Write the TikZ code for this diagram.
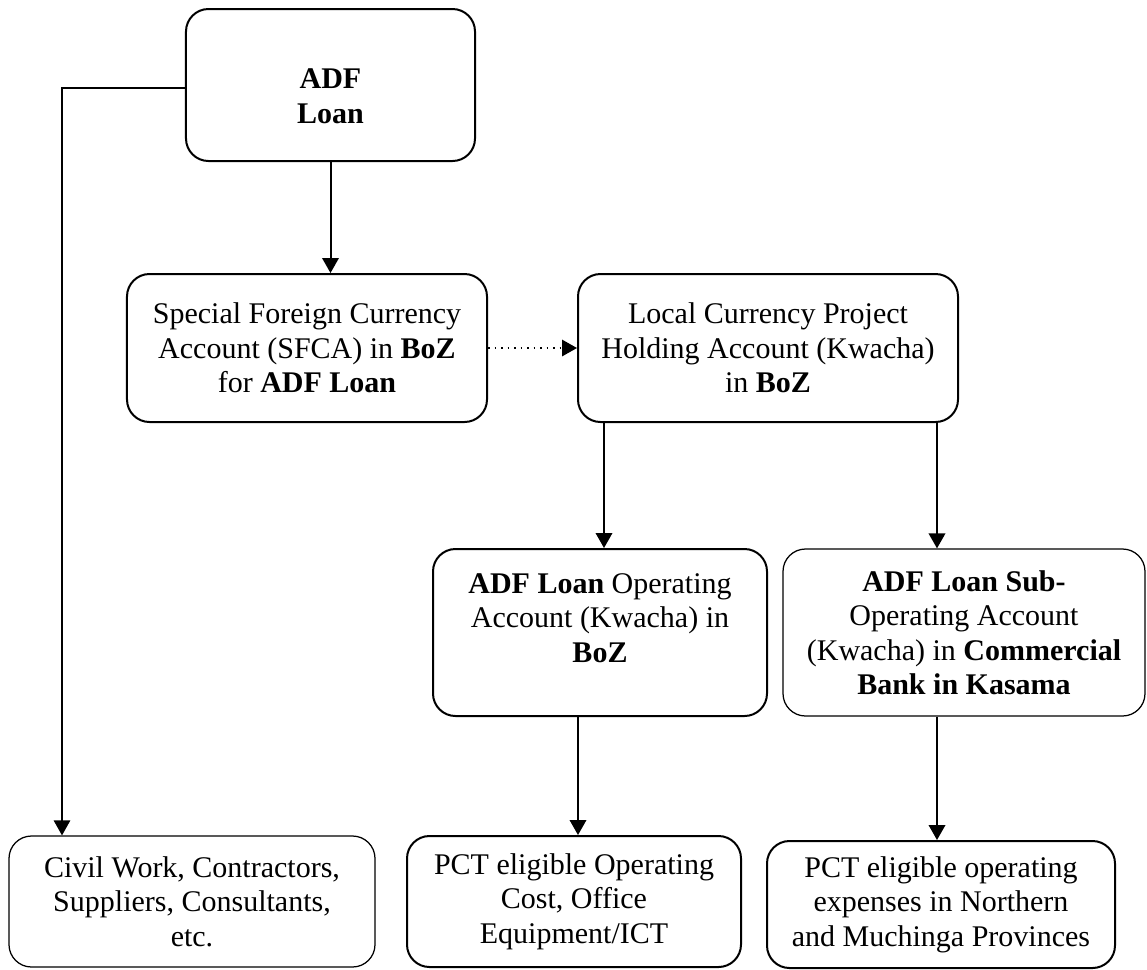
\documentclass[tikz,border=0pt]{standalone}
\usepackage{fontspec}
\setmainfont{Liberation Serif}
\usetikzlibrary{arrows.meta}

\begin{document}
\begin{tikzpicture}[x=0.4pt,y=-0.4pt,->,>={Triangle[length=6pt,width=6.6pt]},
                    line width=0.8pt,font=\fontsize{12}{13.8}\selectfont]
  \tikzstyle{box}=[draw=black,rounded corners=9pt,align=center,inner sep=2pt]
  \tikzstyle{thinbox}=[box,line width=0.5pt]

  \useasboundingbox (0,0) rectangle (1147,969);

  \node[box,minimum width=115.6pt,minimum height=60.8pt]      (adf)    at (330.5,85)   {\rule{0pt}{17pt}\textbf{ADF}\\\textbf{Loan}};
  \node[box,minimum width=144pt,minimum height=59.2pt]        (sfca)   at (307,348)    {Special Foreign Currency\\Account (SFCA) in \textbf{BoZ}\\for \textbf{ADF Loan}};
  \node[box,minimum width=152pt,minimum height=59.2pt]        (local)  at (768,348)    {Local Currency Project\\Holding Account (Kwacha)\\in \textbf{BoZ}};
  \node[box,minimum width=133.6pt,minimum height=66.8pt]      (opacc)  at (600,632.5)  {\textbf{ADF Loan} Operating\\Account (Kwacha) in\\\textbf{BoZ}\rule[-11.8pt]{0pt}{0pt}};
  \node[thinbox,minimum width=144.8pt,minimum height=66.8pt]  (subacc) at (964,632.5)  {\textbf{ADF Loan Sub-}\\Operating Account\\(Kwacha) in \textbf{Commercial}\\\textbf{Bank in Kasama}};
  \node[thinbox,minimum width=146.4pt,minimum height=52.4pt]  (civil)  at (192,901.5)  {Civil Work, Contractors,\\Suppliers, Consultants,\\etc.};
  \node[box,minimum width=133.6pt,minimum height=52.4pt]      (pctop)  at (574,901.5)  {PCT eligible Operating\\Cost, Office\\Equipment/ICT};
  \node[box,minimum width=139.2pt,minimum height=50.8pt]      (pctexp) at (941,904.5)  {PCT eligible operating\\expenses in Northern\\and Muchinga Provinces};

  \draw (adf) -- (adf |- sfca.north);
  \draw[dotted,line width=0.6pt] (sfca.east) -- (local.west);
  \draw ([xshift=1.6pt]local.south -| opacc) -- ([xshift=1.6pt]opacc.north);
  \draw ([xshift=-1.6pt]local.south -| pctexp) -- ([xshift=-1.6pt]pctexp |- subacc.north);
  \draw ([xshift=1.6pt]opacc.south -| pctop) -- ([xshift=1.6pt]pctop.north);
  \draw ([xshift=-1.6pt]subacc.south -| pctexp) -- ([xshift=-1.6pt]pctexp.north);
  \draw[line width=0.5pt] ([yshift=-1.2pt]adf.west) -| ([xshift=-52pt]civil.north);

\end{tikzpicture}
\end{document}
